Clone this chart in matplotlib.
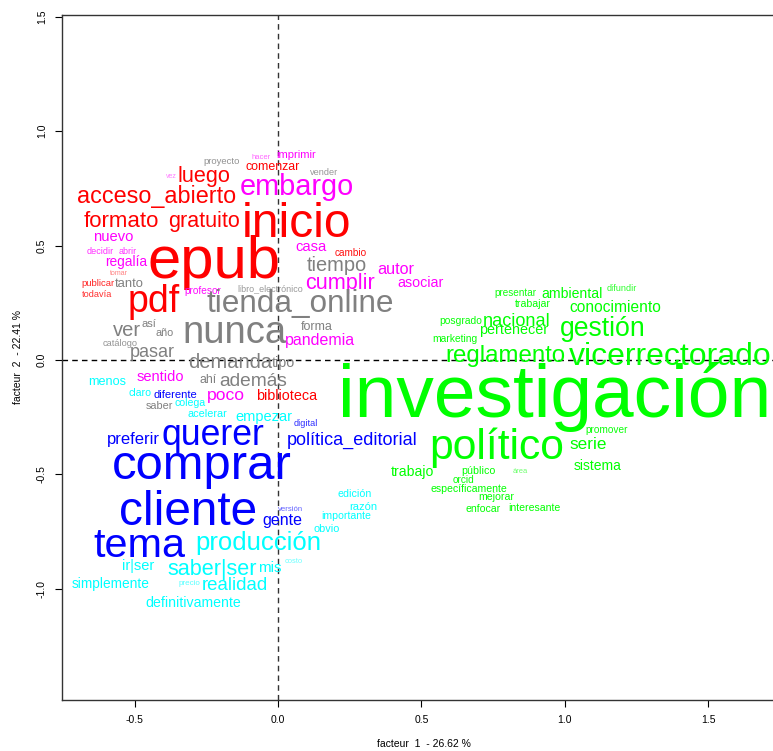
import matplotlib
matplotlib.use("Agg")
import matplotlib.pyplot as plt
import numpy as np

plt.rcParams['font.family'] = ['Liberation Sans', 'DejaVu Sans']

# classe 1 (rouge)
red_words = ["epub", "inicio", "pdf", "acceso_abierto", "formato", "gratuito", "luego",
             "comenzar", "cambio", "biblioteca", "publicar", "todavía", "tomar"]
red_f1 = [-0.223, 0.066, -0.432, -0.422, -0.547, -0.258, -0.258, -0.017, 0.254, 0.031, -0.627, -0.631, -0.554]
red_f2 = [0.428, 0.594, 0.253, 0.716, 0.603, 0.603, 0.803, 0.843, 0.467, -0.157, 0.336, 0.284, 0.376]
red_cex = [43, 34.5, 27, 16.8, 16, 15.5, 15.6, 8.9, 7.2, 10.4, 6.8, 6.6, 5]

# classe 2 (magenta)
mag_words = ["embargo", "cumplir", "casa", "autor", "asociar", "pandemia", "nuevo", "regalía",
             "decidir", "abrir", "vez", "hacer", "imprimir", "profesor", "sentido", "poco"]
mag_f1 = [0.066, 0.216, 0.115, 0.411, 0.498, 0.146, -0.575, -0.530, -0.620, -0.523, -0.373, -0.059, 0.063, -0.261, -0.411, -0.181]
mag_f2 = [0.755, 0.336, 0.493, 0.397, 0.336, 0.087, 0.537, 0.428, 0.476, 0.476, 0.803, 0.886, 0.895, 0.301, -0.074, -0.153]
mag_cex = [20.8, 15.6, 10.6, 11.7, 10.3, 11.5, 10.6, 9.9, 6.6, 6.5, 5, 5.5, 8, 7.3, 10.5, 12.6]

# classe 3 (gris)
grey_words = ["nunca", "tienda_online", "tiempo", "demanda", "tipo", "además", "ahí", "ver", "así",
              "año", "catálogo", "pasar", "tanto", "proyecto", "vender", "libro_electrónico", "forma", "saber"]
grey_f1 = [-0.153, 0.077, 0.206, -0.167, 0.017, -0.087, -0.244, -0.526, -0.449, -0.397, -0.551, -0.439, -0.519, -0.195, 0.160, -0.028, 0.136, -0.415]
grey_f2 = [0.118, 0.245, 0.415, -0.009, -0.013, -0.092, -0.087, 0.131, 0.157, 0.118, 0.074, 0.031, 0.332, 0.865, 0.821, 0.310, 0.144, -0.201]
grey_cex = [27.5, 22.7, 14.4, 14.5, 10.3, 13.8, 8.8, 14.5, 8, 7.8, 6.7, 13, 9.4, 6.8, 6.6, 6.5, 9, 7.8]

# classe 4 (cyan)
cyan_words = ["producción", "saber|ser", "mis", "realidad", "ir|ser", "simplemente", "definitivamente",
              "precio", "costo", "empezar", "acelerar", "colega", "claro", "menos", "edición", "razón",
              "importante", "obvio"]
cyan_f1 = [-0.070, -0.230, -0.028, -0.150, -0.488, -0.585, -0.296, -0.310, 0.056, -0.049, -0.247, -0.307, -0.481, -0.596, 0.268, 0.296, 0.237, 0.171]
cyan_f2 = [-0.799, -0.913, -0.908, -0.987, -0.900, -0.978, -1.061, -0.978, -0.878, -0.249, -0.236, -0.188, -0.144, -0.096, -0.585, -0.642, -0.681, -0.738]
cyan_cex = [18.5, 15.6, 11, 13.4, 10.5, 9.9, 10.2, 5.8, 5.4, 10.5, 7.8, 7.6, 7.6, 9.1, 7.7, 8, 7.6, 7.8]

# classe 5 (bleu)
blue_words = ["comprar", "cliente", "tema", "querer", "preferir", "gente", "versión", "digital",
              "política_editorial", "diferente"]
blue_f1 = [-0.265, -0.314, -0.484, -0.226, -0.505, 0.014, 0.042, 0.098, 0.258, -0.359]
blue_f2 = [-0.463, -0.664, -0.812, -0.328, -0.349, -0.699, -0.651, -0.279, -0.349, -0.153]
blue_cex = [35.3, 34.4, 29.8, 25.7, 12, 11.5, 5.6, 6.6, 13, 8]

# classe 6 (vert)
green_words = ["investigación", "político", "vicerrectorado", "gestión", "reglamento", "conocimiento",
               "ambiental", "nacional", "pertenecer", "presentar", "trabajar", "difundir", "posgrado",
               "marketing", "serie", "sistema", "promover", "trabajo", "público", "área", "orcid",
               "específicamente", "mejorar", "enfocar", "interesante"]
green_f1 = [0.965, 0.763, 1.366, 1.132, 0.794, 1.174, 1.024, 0.833, 0.822, 0.829, 0.889, 1.199, 0.638,
            0.617, 1.080, 1.115, 1.146, 0.470, 0.697, 0.843, 0.645, 0.666, 0.760, 0.714, 0.892]
green_f2 = [-0.162, -0.384, 0.013, 0.135, 0.017, 0.231, 0.288, 0.170, 0.131, 0.293, 0.245, 0.314, 0.170,
            0.092, -0.367, -0.463, -0.306, -0.489, -0.485, -0.485, -0.524, -0.563, -0.598, -0.651, -0.646]
green_cex = [54, 30.7, 23, 19.2, 17.3, 11.2, 10.1, 13.1, 10.4, 7.2, 7.6, 6.6, 7.4,
             7.4, 12.3, 10, 7.3, 10.1, 7.7, 5.4, 7.3, 7.6, 7.6, 7.6, 7.6]

classes = [
    (red_words, red_f1, red_f2, red_cex, "#FF0000"),
    (mag_words, mag_f1, mag_f2, mag_cex, "#FF00FF"),
    (grey_words, grey_f1, grey_f2, grey_cex, "#808080"),
    (cyan_words, cyan_f1, cyan_f2, cyan_cex, "#00FFFF"),
    (blue_words, blue_f1, blue_f2, blue_cex, "#0000FF"),
    (green_words, green_f1, green_f2, green_cex, "#00FF00"),
]

fig = plt.figure(figsize=(7.73, 7.51), dpi=100)
# axes box: left 62px, top 15px, bottom 700px, right edge beyond the image
ax = fig.add_axes([62 / 773, 51 / 751, (785 - 62) / 773, 685 / 751])
ax.set_xlim(-0.753, 1.767)
ax.set_ylim(-1.485, 1.507)

for words, f1, f2, cex, col in classes:
    for w, x, y, s in zip(words, f1, f2, cex):
        a = float(np.clip(0.5 + (s - 5) * 0.2, 0.5, 1.0))
        ax.text(x, y, w, fontsize=s, color=col, alpha=a, ha='center', va='center', clip_on=True)

ax.axhline(0, color='black', lw=1, ls=(0, (4, 3)))
ax.axvline(0, color='#333333', lw=1, ls=(0, (4, 3)))

ax.set_xticks([-0.5, 0.0, 0.5, 1.0, 1.5])
ax.set_yticks([-1.0, -0.5, 0.0, 0.5, 1.0, 1.5])
ax.set_xticklabels(["-0.5", "0.0", "0.5", "1.0", "1.5"])
ax.set_yticklabels(["-1.0", "-0.5", "0.0", "0.5", "1.0", "1.5"], rotation=90, va='center')
ax.tick_params(direction='out', length=5, width=0.8, labelsize=7.5, pad=6)
for sp in ax.spines.values():
    sp.set_linewidth(1)
    sp.set_color('#333333')

ax.set_xlabel("facteur  1  - 26.62 %", fontsize=7.5, labelpad=10)
ax.set_ylabel("facteur  2  - 22.41 %", fontsize=7.5, labelpad=10)

fig.savefig("out.png", dpi=100)
